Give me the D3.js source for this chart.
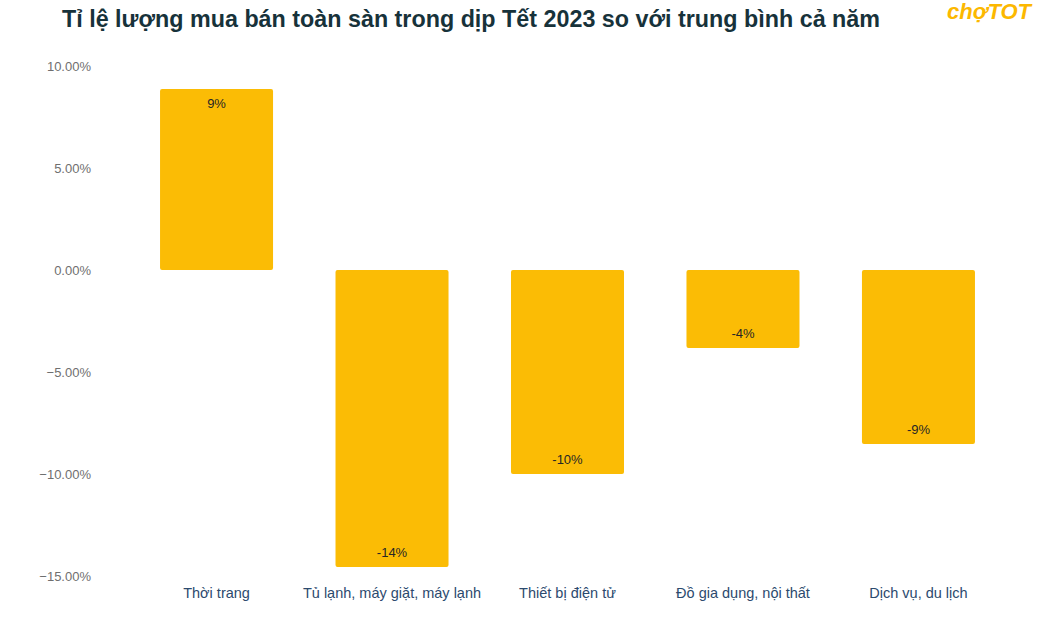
<!DOCTYPE html>
<html lang="vi">
<head>
   <meta charset="UTF-8">
   <title>Tết 2023</title>
   <style>
      body { margin: 0; background: #fff; }
      text { font-family: "Liberation Sans", Arial, sans-serif; }
      .title { font-weight: bold; fill: #17323a; }
      .logo { font-weight: bold; font-style: italic; fill: #fcb800; }
      .ytick text { fill: #6f6f6f; font-size: 13px; }
      .xtick { fill: #2c4a6e; font-size: 14.5px; }
      .val { fill: #262626; font-size: 13px; text-anchor: middle; }
   </style>
   <script src="https://cdn.jsdelivr.net/npm/d3@7"></script>
</head>
<body>
<svg width="1050" height="630"></svg>
<script>
   // data
   const categories = ['Thời trang', 'Tủ lạnh, máy giặt, máy lạnh', 'Thiết bị điện tử', 'Đồ gia dụng, nội thất', 'Dịch vụ, du lịch']
   const values = [8.87, -14.56, -10.0, -3.82, -8.53]
   const valueLabels = ['9%', '-14%', '-10%', '-4%', '-9%']
   const yTicks = [10, 5, 0, -5, -10, -15]

   const svg = d3.select('svg')

   const x = d3.scaleBand()
      .domain(categories)
      .range([128.8, 1006.2])
      .paddingInner(0.356)
      .paddingOuter(0.178)

   const y = d3.scaleLinear()
      .domain([-15, 10])
      .range([576, 66])

   // title + logo
   svg.append('text')
      .attr('class', 'title')
      .attr('x', 62)
      .attr('y', 27)
      .attr('font-size', 24)
      .attr('textLength', 818)
      .attr('lengthAdjust', 'spacingAndGlyphs')
      .text('Tỉ lệ lượng mua bán toàn sàn trong dịp Tết 2023 so với trung bình cả năm')

   svg.append('text')
      .attr('class', 'logo')
      .attr('x', 1031)
      .attr('y', 19)
      .attr('text-anchor', 'end')
      .attr('font-size', 22)
      .text('chợTOT')

   // y axis labels
   const yAxis = svg.append('g')
      .attr('class', 'ytick')
      .attr('transform', 'translate(91,0)')
      .call(d3.axisLeft(y).tickValues(yTicks).tickSize(0).tickPadding(0)
         .tickFormat(d => d3.format('.2f')(d) + '%'))
   yAxis.select('.domain').remove()
   yAxis.selectAll('text').attr('font-family', '"Liberation Sans", Arial, sans-serif')

   // bars
   svg.selectAll('rect.bar')
      .data(values)
      .enter()
      .append('rect')
         .attr('class', 'bar')
         .attr('x', (d, i) => x(categories[i]))
         .attr('y', d => y(Math.max(0, d)))
         .attr('width', x.bandwidth())
         .attr('height', d => Math.abs(y(d) - y(0)))
         .attr('rx', 2)
         .attr('fill', '#fbbc05')

   svg.selectAll('text.val')
      .data(values)
      .enter()
      .append('text')
         .attr('class', 'val')
         .attr('x', (d, i) => x(categories[i]) + x.bandwidth() / 2)
         .attr('y', d => d > 0 ? y(d) + 19 : y(d) - 10)
         .text((d, i) => valueLabels[i])

   // category labels
   svg.selectAll('text.xtick')
      .data(categories)
      .enter()
      .append('text')
         .attr('class', 'xtick')
         .attr('x', d => x(d) + x.bandwidth() / 2)
         .attr('y', 598)
         .attr('text-anchor', 'middle')
         .text(d => d)
</script>
</body>
</html>
